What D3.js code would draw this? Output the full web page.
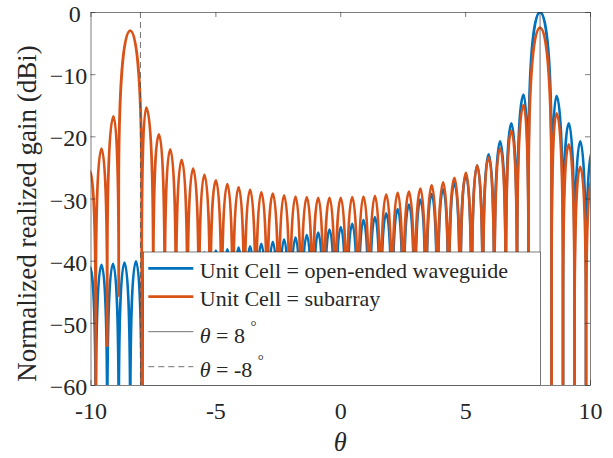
<!doctype html>
<html>
<head>
<meta charset="utf-8">
<script src="https://d3js.org/d3.v7.min.js"></script>
<style>
  body { margin: 0; background: #fff; }
  svg text { font-family: "Liberation Serif", "Times New Roman", serif; fill: #262626; }
</style>
</head>
<body>
<div id="chart"></div>
<script>
// lobe tops and nulls, left to right (deg, dB); -100 = null far below the axis
var blueTheta = [-10.02, -9.79, -9.56, -9.33, -9.10, -8.87, -8.64, -8.41, -8.18, -7.95,
    -7.72, -7.49, -7.26, -7.03, -6.81, -6.58, -6.35, -6.12, -5.89, -5.66,
    -5.44, -5.21, -4.98, -4.75, -4.52, -4.30, -4.07, -3.84, -3.61, -3.38,
    -3.16, -2.93, -2.70, -2.47, -2.25, -2.02, -1.79, -1.57, -1.34, -1.11,
    -0.88, -0.66, -0.43, -0.20, 0.02, 0.25, 0.48, 0.71, 0.93, 1.16,
    1.39, 1.61, 1.84, 2.07, 2.30, 2.52, 2.75, 2.98, 3.21, 3.43,
    3.66, 3.89, 4.12, 4.34, 4.57, 4.80, 5.03, 5.26, 5.48, 5.71,
    5.94, 6.17, 6.40, 6.63, 6.85, 7.08, 7.34, 7.54, 8.00, 8.46,
    8.66, 8.92, 9.15, 9.38, 9.61, 9.84, 10.07];
var blueGain = [-41.0, -100, -40.7, -100, -40.5, -100, -40.3, -100, -40.1, -100,
    -39.9, -100, -39.7, -100, -39.5, -100, -39.3, -100, -39.0, -100,
    -38.7, -100, -38.4, -100, -38.2, -100, -37.9, -100, -37.7, -100,
    -37.3, -100, -37.0, -100, -36.6, -100, -36.3, -100, -35.9, -100,
    -35.5, -100, -35.0, -100, -34.6, -100, -34.1, -100, -33.5, -100,
    -33.0, -100, -32.4, -100, -31.7, -100, -31.0, -100, -30.2, -100,
    -29.3, -100, -28.5, -100, -27.5, -100, -26.3, -100, -24.7, -100,
    -22.9, -100, -20.8, -100, -17.9, -100, -13.3, -100, 0, -100,
    -13.5, -100, -17.9, -100, -20.8, -100, -22.5];

var orangeTheta = [-10.02, -9.79, -9.56, -9.33, -9.08, -8.87, -8.41, -7.95, -7.77, -7.49,
    -7.26, -7.03, -6.81, -6.58, -6.35, -6.12, -5.89, -5.66, -5.44, -5.21,
    -4.98, -4.75, -4.52, -4.30, -4.07, -3.84, -3.61, -3.38, -3.16, -2.93,
    -2.70, -2.47, -2.25, -2.02, -1.79, -1.57, -1.34, -1.11, -0.88, -0.66,
    -0.43, -0.20, 0.02, 0.25, 0.48, 0.71, 0.93, 1.16, 1.39, 1.61,
    1.84, 2.07, 2.30, 2.52, 2.75, 2.98, 3.21, 3.43, 3.66, 3.89,
    4.12, 4.34, 4.57, 4.80, 5.03, 5.26, 5.48, 5.71, 5.94, 6.17,
    6.40, 6.63, 6.85, 7.08, 7.34, 7.54, 8.00, 8.46, 8.66, 8.92,
    9.15, 9.38, 9.61, 9.84, 10.07];
var orangeGain = [-25.6, -100, -22.0, -53.7, -16.8, -45.6, -3.0, -100, -15.4, -100,
    -19.7, -100, -22.1, -100, -23.8, -100, -25.2, -100, -26.2, -100,
    -27.1, -100, -27.7, -100, -28.2, -100, -28.6, -100, -29.0, -100,
    -29.2, -100, -29.5, -100, -29.7, -100, -29.8, -100, -29.9, -100,
    -29.9, -100, -29.9, -100, -29.8, -100, -29.7, -100, -29.6, -100,
    -29.4, -100, -29.1, -100, -28.9, -100, -28.4, -100, -27.9, -100,
    -27.4, -100, -26.7, -100, -25.9, -100, -24.7, -100, -23.4, -100,
    -21.9, -100, -19.1, -100, -15.0, -100, -2.5, -100, -16.3, -100,
    -21.3, -100, -24.9, -100, -26.8];

var xTicks = [-10, -5, 0, 5, 10];
var yTicks = [0, -10, -20, -30, -40, -50, -60];
var refAngles = [8, -8];
var seriesNames = ["Unit Cell = open-ended waveguide", "Unit Cell = subarray"];
var seriesColors = ["#0072BD", "#D95319"];

var W = 613, H = 458;
var margin = {top: 12, right: 23, bottom: 73, left: 90.5};
var width = W - margin.left - margin.right;
var height = H - margin.top - margin.bottom;

var x = d3.scaleLinear().domain([-10, 10]).range([0, width]);
var y = d3.scaleLinear().domain([-60, 0]).range([height, 0]);

// each step is either null -> lobe top (rising) or lobe top -> null (falling)
function curveLobe(context) {
    var pts;
    return {
        areaStart: function () {}, areaEnd: function () {},
        lineStart: function () { pts = []; },
        point: function (px, py) { pts.push([px, py]); },
        lineEnd: function () {
            context.moveTo(pts[0][0], pts[0][1]);
            for (var i = 1; i < pts.length; i++) {
                var a = pts[i - 1], b = pts[i];
                var rising = b[1] < a[1];
                var lo = rising ? a : b, hi = rising ? b : a;
                var r = Math.min(160, lo[1] - hi[1]);
                var kx = lo[0] + 0.35 * (hi[0] - lo[0]);
                if (rising) {
                    context.lineTo(lo[0], hi[1] + r);
                    context.bezierCurveTo(lo[0], hi[1] + 0.4 * r, kx, hi[1], hi[0], hi[1]);
                } else {
                    context.bezierCurveTo(kx, hi[1], lo[0], hi[1] + 0.4 * r, lo[0], hi[1] + r);
                    context.lineTo(lo[0], lo[1]);
                }
            }
        }
    };
}

var svg = d3.select("#chart").append("svg")
    .attr("width", W)
    .attr("height", H);

svg.append("defs").append("clipPath").attr("id", "plotclip")
    .append("rect").attr("width", width).attr("height", height);

var g = svg.append("g")
    .attr("transform", "translate(" + margin.left + "," + margin.top + ")");

var line = d3.line()
    .x(function (d) { return x(d[0]); })
    .y(function (d) { return y(d[1]); })
    .curve(curveLobe);

var series = [
    d3.zip(blueTheta, blueGain),
    d3.zip(orangeTheta, orangeGain)
];

var plot = g.append("g").attr("clip-path", "url(#plotclip)");
series.forEach(function (s, i) {
    plot.append("path")
        .datum(s)
        .attr("d", line)
        .attr("fill", "none")
        .attr("stroke", seriesColors[i])
        .attr("stroke-width", 2.8)
        .attr("stroke-linejoin", "round");
});

refAngles.forEach(function (a, i) {
    plot.append("line")
        .attr("x1", x(a)).attr("x2", x(a))
        .attr("y1", 0).attr("y2", height)
        .attr("stroke", "#4d4d4d")
        .attr("stroke-width", 0.8)
        .attr("stroke-dasharray", i == 1 ? "6,4" : null);
});

// axes, ticks pointing inward on all four sides
var xAxis = g.append("g").attr("transform", "translate(0," + height + ")")
    .call(d3.axisBottom(x).tickValues(xTicks)
        .tickFormat(function (d) { return d < 0 ? "-" + Math.abs(d) : String(d); })
        .tickSize(-5).tickSizeOuter(0).tickPadding(16.5));
var yAxis = g.append("g")
    .call(d3.axisLeft(y).tickValues(yTicks)
        .tickFormat(function (d) { return d < 0 ? "\u2212" + Math.abs(d) : String(d); })
        .tickSize(-5).tickSizeOuter(0).tickPadding(3.2));
g.append("g")
    .call(d3.axisTop(x).tickValues(xTicks).tickFormat("").tickSize(-5).tickSizeOuter(0));
g.append("g").attr("transform", "translate(" + width + ",0)")
    .call(d3.axisRight(y).tickValues(yTicks).tickFormat("").tickSize(-5).tickSizeOuter(0));

g.selectAll(".domain").attr("stroke", "#262626").attr("stroke-width", 0.6);
g.selectAll(".tick line").attr("stroke", "#262626").attr("stroke-width", 0.6);
g.selectAll(".tick text").attr("font-size", 24).attr("font-family", null).attr("fill", "#262626");
yAxis.selectAll(".tick text").attr("dy", "0.4em");
// the unsigned 0 label sits a little left of the others in the original
yAxis.selectAll(".tick text").filter(function (d) { return d === 0; }).attr("x", -9.8);

g.append("text")
    .attr("transform", "translate(-55," + (height / 2 + 15) + ") rotate(-90)")
    .attr("text-anchor", "middle")
    .attr("font-size", 27)
    .text("Normalized realized gain (dBi)");

g.append("text")
    .attr("x", width / 2).attr("y", height + 66)
    .attr("text-anchor", "middle")
    .attr("font-size", 26.4)
    .attr("font-style", "italic")
    .text("\u03b8");

// legend
var lg = g.append("g").attr("transform", "translate(" + (143.3 - margin.left) + "," + (252 - margin.top) + ")");
lg.append("rect")
    .attr("width", 397.4).attr("height", 133.5)
    .attr("fill", "#fff")
    .attr("stroke", "#262626").attr("stroke-width", 0.6);

var rowY = [16.3, 44.7, 79.7, 114.7];
var baseY = [25.7, 54, 90.7, 125.3];
seriesNames.forEach(function (name, i) {
    lg.append("line")
        .attr("x1", 5).attr("x2", 50).attr("y1", rowY[i]).attr("y2", rowY[i])
        .attr("stroke", seriesColors[i]).attr("stroke-width", 2.8);
    lg.append("text")
        .attr("x", 56.5).attr("y", baseY[i])
        .attr("font-size", 22)
        .text(name);
});
refAngles.forEach(function (a, i) {
    var k = i + 2;
    lg.append("line")
        .attr("x1", 5).attr("x2", 50).attr("y1", rowY[k]).attr("y2", rowY[k])
        .attr("stroke", "#4d4d4d").attr("stroke-width", 0.8)
        .attr("stroke-dasharray", i == 1 ? "6,4" : null);
    var t = lg.append("text")
        .attr("x", 56.5).attr("y", baseY[k])
        .attr("font-size", 22);
    t.append("tspan").attr("font-style", "italic").text("\u03b8");
    t.append("tspan").text(" = " + a + " ");
    t.append("tspan").attr("font-size", 15).attr("dy", -12).text("\u00b0");
});
</script>
</body>
</html>
